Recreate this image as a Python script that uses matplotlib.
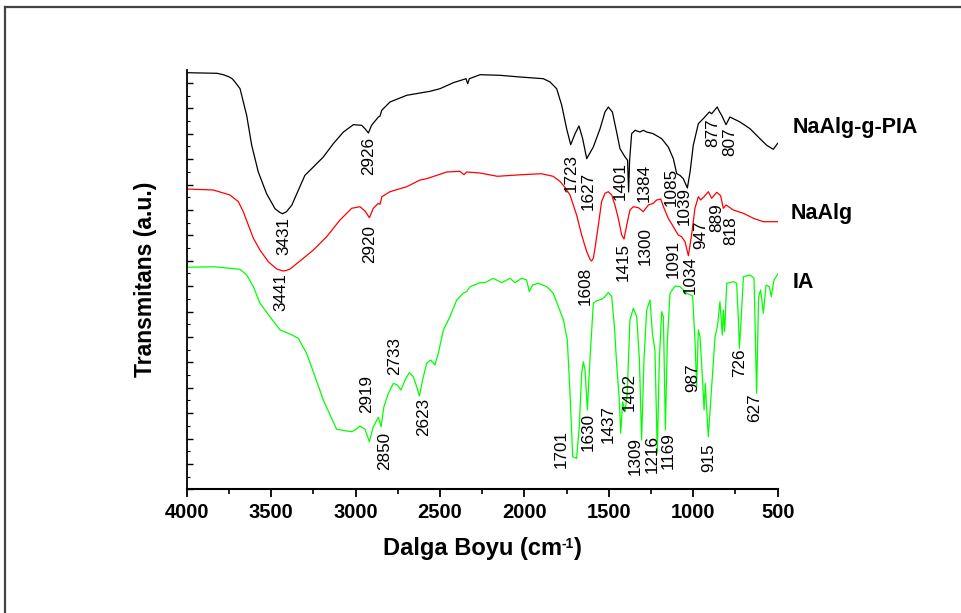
import matplotlib
matplotlib.use("Agg")
import matplotlib.pyplot as plt
from matplotlib import font_manager
from matplotlib.lines import Line2D
from matplotlib.ticker import MultipleLocator
from matplotlib.offsetbox import TextArea, HPacker, AnnotationBbox

# ---------------- data ----------------
black_wn = [4000, 3820, 3783, 3750, 3730, 3714, 3684, 3645, 3615, 3576, 3527, 3477, 3450, 3432, 3410,
            3378, 3339, 3300, 3250,
            3191, 3132, 3072, 3013, 2964, 2944, 2924, 2905, 2865, 2855, 2845, 2796, 2697, 2559,
            2500, 2421, 2346, 2336, 2326, 2263, 2145, 2026, 1888, 1848, 1809, 1779, 1750, 1726,
            1700, 1677, 1655, 1631, 1592, 1552, 1523, 1503, 1479, 1454, 1434, 1404, 1389, 1383,
            1377, 1365, 1345, 1316, 1296, 1276, 1237, 1187, 1148, 1118, 1098, 1079, 1059, 1035,
            1019, 1000, 970, 941, 905, 891, 858, 846, 832, 806, 783, 723, 664, 605, 565, 526, 500]
black_t = [416.6, 416, 414.6, 412.5, 410.5, 407.3, 400.6, 374, 344, 317.3, 295.6, 280.6, 277, 275.6, 277.5,
           284, 299, 314, 322.3,
           332.3, 345.6, 357.3, 364.6, 364, 360.6, 356.3, 364, 372.3, 373.3, 379, 387.3, 394, 398,
           400.6, 406.6, 410.6, 405.6, 410.6, 414.6, 414, 412.3, 410.6, 407.3, 400.6, 384, 360.6, 344.6,
           355.6, 363.3, 350.6, 330.6, 342.3, 360.6, 377.3, 382.3, 377.3, 357.3, 340.6, 332.3, 329, 297.3,
           329, 355.6, 359, 357.3, 359, 357.3, 355.6, 350.6, 342.3, 330.6, 315.6, 314, 310.6, 301.3,
           317.3, 344, 365.6, 370.6, 377.3, 375.6, 382.3, 378, 374, 364.6, 372.3, 367.3, 360.6, 350.6, 344, 340, 346]

red_wn = [4000, 3842, 3744, 3694, 3665, 3635, 3605, 3566, 3517, 3467, 3440, 3428, 3410, 3388, 3329, 3250, 3171,
          3092, 3023, 2974, 2944, 2918, 2895, 2865, 2855, 2844, 2796, 2697, 2618, 2579, 2460, 2382,
          2358, 2342, 2263, 2160, 2026, 1900, 1830, 1790, 1760, 1730, 1691, 1661, 1631, 1610, 1602, 1592, 1582,
          1562, 1543, 1523, 1503, 1483, 1464, 1444, 1424, 1410, 1394, 1375, 1355, 1325, 1296, 1266,
          1237, 1217, 1193, 1173, 1148, 1118, 1089, 1069, 1049, 1029, 1010, 990, 970, 956, 936, 911,
          891, 861, 838, 822, 806, 763, 703, 644, 585, 546, 496]
red_t = [300.3, 299.3, 294.3, 287.6, 277.6, 264.3, 251, 239.3, 227.6, 220.3, 218.8, 218.3, 218.8, 220.3, 228.3, 239.3, 252.6,
         269.3, 281, 282.6, 278.3, 271.6, 281, 286, 285, 292.6, 297.6, 302.6, 309.3, 310.6, 317.3, 318,
         314.6, 317.3, 316.3, 313, 314.5, 315.6, 313, 308, 302, 294.3, 274.3, 254.3, 237.6, 229.5, 228.3, 231, 241,
         264.3, 287.6, 296, 297.6, 294.3, 284.3, 271, 254.3, 250.3, 264.3, 279.3, 282.6, 281.6, 277.6, 284.3,
         286, 289.3, 290.3, 281, 271, 262.6, 254.3, 252.6, 247.6, 233.6, 254.3, 281, 292.6, 289.3, 292.6, 297.6,
         291, 297, 293.6, 281, 284.3, 279.3, 276, 271, 267.6, 267.6, 267.6]

green_wn = [4000, 3842, 3684, 3645, 3605, 3566, 3507, 3447, 3388, 3339, 3290, 3240, 3191, 3151, 3112,
            3063, 3023, 3003, 2974, 2944, 2918, 2895, 2865, 2849, 2832, 2806, 2776, 2753, 2731, 2707,
            2682, 2658, 2638, 2622, 2603, 2579, 2555, 2530, 2510, 2480, 2441, 2401, 2362, 2342, 2322,
            2263, 2233, 2184, 2135, 2085, 2056, 2016, 1987, 1971, 1951, 1918, 1868, 1829, 1799, 1769,
            1746, 1730, 1714, 1691, 1675, 1661, 1651, 1641, 1627, 1612, 1592, 1572, 1543, 1523, 1503,
            1483, 1467, 1454, 1438, 1430, 1418, 1404, 1391, 1375, 1355, 1335, 1319, 1306, 1292, 1276,
            1256, 1242, 1227, 1213, 1201, 1187, 1177, 1165, 1154, 1138, 1108, 1079, 1039, 1004, 990,
            980, 970, 960, 944, 936, 929, 911, 891, 871, 857, 842, 828, 822, 814, 802, 763, 743, 731,
            727, 719, 703, 664, 640, 625, 613, 601, 585, 569, 550, 538, 522, 496]
green_t = [222, 222.6, 220, 214.3, 202.6, 186, 172.6, 159.3, 155.3, 151, 136, 112.6, 89.3, 74.3, 60,
           58.6, 57.6, 59.3, 63.3, 60, 47.6, 62.6, 72, 62.6, 82.6, 96, 106, 104.3, 99.3, 109.3,
           116.6, 112.6, 102.6, 93.3, 109.3, 126, 129.3, 124.3, 136, 159.3, 172.6, 189.3, 196, 197.6, 202.6,
           206.6, 206.6, 211, 206.6, 211, 206.6, 211, 209.3, 197.6, 204.3, 206, 202.6, 196, 182.6, 169.3,
           149.3, 96, 32.6, 31, 62.6, 116, 127.6, 119.3, 79.3, 129.3, 186, 188.6, 190, 192.6, 197,
           192.6, 162.6, 126, 89.3, 56, 87.6, 77.6, 96, 169.3, 181, 172.6, 129.3, 49.3, 129.3, 179.3,
           189.3, 156, 139.3, 36, 129.3, 177.6, 172.6, 59.3, 146, 196, 203.3, 202.6, 196, 193.3, 149.3,
           102.6, 159.3, 152.6, 106, 79.3, 106, 52.6, 102.6, 152.6, 162.6, 187.6, 154.3, 179.3, 157.6, 206, 207.6, 206, 162.6,
           141, 162.6, 212.6, 214.3, 211, 96, 192.6, 199.3, 176, 204.3, 202.6, 192.6, 209.3, 216]

# peak labels: text, x position (cm-1), top of text (a.u.)
black_labels = ["3431", "2926", "1723", "1627", "1401", "1384", "1085", "1039", "877", "807"]
black_lab_x = [3424, 2924, 1720, 1621, 1434, 1292, 1128, 1055, 885, 786]
black_lab_y = [272.6, 352.3, 335.6, 317.3, 327.3, 325.6, 321.3, 302.3, 370.6, 362.3]

red_labels = ["3441", "2920", "1608", "1415", "1300", "1091", "1034", "947", "889", "818"]
red_lab_x = [3444, 2915, 1637, 1414, 1286, 1118, 1019, 954, 861, 779]
red_lab_y = [216, 264.3, 222.6, 246, 262.6, 249.3, 233.3, 269, 286, 272.6]

green_labels = ["2919", "2850", "2733", "2623", "1701", "1630", "1437", "1402", "1309", "1216",
                "1169", "987", "915", "726", "627"]
green_lab_x = [2934, 2826, 2767, 2599, 1779, 1621, 1503, 1379, 1345, 1240, 1150, 1004, 911, 723, 634]
green_lab_y = [114.3, 57.6, 152.6, 91, 59.3, 76, 84.3, 116, 52.6, 54.3, 57.6, 126, 46, 141, 96]

series_names = ["NaAlg-g-PIA", "NaAlg", "IA"]
series_name_y = [362.3, 276.3, 207.3]
series_name_x = [410, 425, 410]

x_ticks = [4000, 3500, 3000, 2500, 2000, 1500, 1000, 500]

# ---------------- fonts ----------------
def has_font(name):
    try:
        font_manager.findfont(font_manager.FontProperties(family=name), fallback_to_default=False)
        return True
    except Exception:
        return False

narrow = "Liberation Sans Narrow" if has_font("Liberation Sans Narrow") else "Liberation Sans"
regular = "Liberation Sans"

# ---------------- figure ----------------
fig = plt.figure(figsize=(9.61, 6.13), dpi=100)
ax = fig.add_axes([186.7 / 961, (613 - 489.3) / 613, (777.7 - 186.7) / 961, (489.3 - 70.3) / 613])

ax.plot(black_wn, black_t, color="black", lw=0.9)
ax.plot(red_wn, red_t, color="#ff0000", lw=0.9)
ax.plot(green_wn, green_t, color="#00ff00", lw=0.9)

lab_kw = dict(rotation=90, ha="center", va="top", fontsize=12.3, family=regular, color="black")
for t, x, y in zip(black_labels, black_lab_x, black_lab_y):
    ax.text(x, y, t, **lab_kw)
for t, x, y in zip(red_labels, red_lab_x, red_lab_y):
    ax.text(x, y, t, **lab_kw)
for t, x, y in zip(green_labels, green_lab_x, green_lab_y):
    ax.text(x, y, t, **lab_kw)

for name, x, y in zip(series_names, series_name_x, series_name_y):
    ax.text(x, y, name, ha="left", va="center", fontsize=15.5, fontweight="bold",
            family=regular, clip_on=False)

ax.set_xlim(4000, 500)
ax.set_ylim(0, 419)
ax.set_xticks(x_ticks)
ax.set_xticklabels([str(v) for v in x_ticks], fontsize=14.5, fontweight="bold", family=narrow)
ax.xaxis.set_minor_locator(MultipleLocator(250))
ax.tick_params(axis="x", which="major", direction="out", length=6, width=1.3, pad=4)
ax.tick_params(axis="x", which="minor", direction="out", length=3.5, width=1.2)

ax.yaxis.set_major_locator(MultipleLocator(25.4))
ax.yaxis.set_minor_locator(MultipleLocator(12.7))
ax.tick_params(axis="y", which="major", direction="in", length=4, width=1.0, labelleft=False)
ax.tick_params(axis="y", which="minor", direction="in", length=2.5, width=0.8)

for s in ("top", "right"):
    ax.spines[s].set_visible(False)
ax.spines["left"].set_linewidth(1.3)
ax.spines["bottom"].set_linewidth(1.5)

# x label with a small "-1" superscript
main_props = dict(fontsize=17, fontweight="bold", family=narrow, color="black")
sup_props = dict(fontsize=10, fontweight="bold", family=narrow, color="black")
xlab = HPacker(children=[TextArea("Dalga Boyu (cm", textprops=main_props),
                         TextArea("-1", textprops=sup_props),
                         TextArea(")", textprops=main_props)],
               align="top", pad=0, sep=0)
ab = AnnotationBbox(xlab, (0.5, (489.3 - 548) / 419), xycoords="axes fraction",
                    frameon=False, box_alignment=(0.5, 0.5), annotation_clip=False)
ax.add_artist(ab)

ax.set_ylabel("Transmitans (a.u.)", fontsize=16.5, fontweight="bold", family=regular, labelpad=18)

# outer frame (top and left lines)
fig.add_artist(Line2D([5 / 961, 1.0], [1 - 7 / 613, 1 - 7 / 613], transform=fig.transFigure,
                      color="#444444", lw=1.6))
fig.add_artist(Line2D([5 / 961, 5 / 961], [0.0, 1 - 7 / 613], transform=fig.transFigure,
                      color="#444444", lw=1.6))

fig.savefig("out.png", dpi=100, facecolor="white")
